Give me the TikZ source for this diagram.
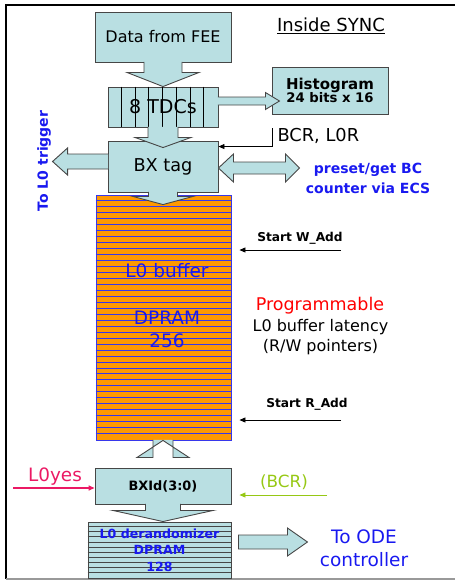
\documentclass[tikz,border=0pt]{standalone}
\usepackage{fontspec}
\setmainfont{DejaVu Sans}
\usetikzlibrary{positioning,arrows.meta,calc}
\definecolor{boxcol}{RGB}{185,223,226}
\definecolor{edgecol}{RGB}{70,70,70}
\definecolor{bufcol}{RGB}{255,153,0}
\definecolor{linecol}{RGB}{55,55,235}
\definecolor{txtblue}{RGB}{25,25,240}
\definecolor{progred}{RGB}{255,0,0}
\definecolor{yescol}{RGB}{235,25,100}
\definecolor{bcrcol}{RGB}{150,200,20}

\begin{document}
\begin{tikzpicture}[x=1pt, y=-1pt,
  %% cyan block  \node[box]{...}
  box/.style={
    draw=edgecol, fill=boxcol, line width=0.9pt,
    inner sep=0pt, align=center
  },
  %% wide hollow block arrows
  blk/.style={draw=edgecol, fill=boxcol, line width=0.9pt, line join=miter},
  %% thin pointer arrows
  ptr/.style={-{Triangle[length=6pt,width=5pt]}, line width=0.8pt, color=#1},
  ptr/.default=black,
  %% stripes inside the memories
  stripe/.style={line width=0.7pt, color=#1},
  stripe/.default=linecol,
]
\useasboundingbox (0,0) rectangle (455,581);

%%── Frame ────────────────────────────────────────────────────────────────────
\draw[line width=1.5pt] (455,5) -- (6,5) -- (6,579);
\draw[line width=1.5pt, black!40] (6,579) -- (455,579);

\node[font=\fontsize{18}{21}\selectfont] (title) at (331,26) {\underline{Inside SYNC}};

%%── Boxes ────────────────────────────────────────────────────────────────────
\node[box, minimum width=136pt, minimum height=50pt,
      font=\fontsize{16}{19}\selectfont] (fee) at (163,37) {Data from FEE};

\node[box, minimum width=110pt, minimum height=40pt] (tdc) at (163,107) {};
\foreach \i in {1,...,7}
  \draw[line width=0.8pt, black] ($(tdc.north west)+(\i*13.75,0)$) -- ($(tdc.south west)+(\i*13.75,0)$);
\node[font=\fontsize{19}{22}\selectfont] (tdctxt) at (tdc.center) {8 TDCs};

\node[box, minimum width=116pt, minimum height=47pt] (hist) at (330,90.5)
  {\fontsize{15}{18}\selectfont\bfseries Histogram\\[-0.5pt]
   \fontsize{13.2}{18}\selectfont\bfseries 24 bits x 16};

\node[box, minimum width=110pt, minimum height=51pt,
      font=\fontsize{17.7}{21}\selectfont] (bx) at (163,166.5) {BX tag};

\node[anchor=west, font=\fontsize{17.8}{21}\selectfont] (bcrl) at (274,136) {BCR, L0R};

\node[align=center, text=txtblue, font=\fontsize{14}{20}\selectfont\bfseries] (ecs) at (368,178)
  {preset/get BC\\counter via ECS};

\node[rotate=90, text=txtblue, font=\fontsize{14}{17}\selectfont\bfseries] (trig) at (44,161)
  {To L0 trigger};

%%── L0 buffer ────────────────────────────────────────────────────────────────
\node[draw=linecol, fill=bufcol, line width=0.9pt, inner sep=0pt,
      minimum width=135pt, minimum height=245pt] (buf) at (163.5,317.5) {};
\foreach \k in {1,...,40}
  \draw[stripe] ($(buf.north west)+(0,\k*5.976)$) -- ($(buf.north east)+(0,\k*5.976)$);
\node[text=txtblue, font=\fontsize{18.5}{22}\selectfont] (buftxt) at (167,271) {L0 buffer};
\node[text=txtblue, align=center, font=\fontsize{18.5}{23}\selectfont] (dpram) at (167,329.5) {DPRAM\\256};

\node[font=\fontsize{12.2}{15}\selectfont\bfseries] (wadd) at (300,238) {Start W\_Add};
\node[font=\fontsize{12.2}{15}\selectfont\bfseries] (radd) at (307,404) {Start R\_Add};
\coordinate (wptr) at (341,250);
\coordinate (rptr) at (341,420);

\node[text=progred, font=\fontsize{17.5}{21}\selectfont] (prog) at (320,306) {Programmable};
\node[font=\fontsize{16}{19}\selectfont] (lat) at (320.5,327) {L0 buffer latency};
\node[font=\fontsize{16}{19}\selectfont] (rw) at (320.5,347) {(R/W pointers)};

%%── BXId and derandomizer ────────────────────────────────────────────────────
\node[box, minimum width=136pt, minimum height=36pt,
      font=\fontsize{12.9}{15}\selectfont\bfseries] (bxid) at (163,486) {BXId(3:0)};

\node[text=yescol, font=\fontsize{18.4}{21}\selectfont] (yes) at (55,477) {L0yes};
\coordinate (yesin) at (13,488);
\node[text=bcrcol, font=\fontsize{16.8}{20}\selectfont] (bcr) at (284,482) {(BCR)};
\coordinate (bcrin) at (327,495);

\node[box, minimum width=143pt, minimum height=56pt] (der) at (159.5,550) {};
\foreach \k in {1,...,10}
  \draw[stripe=edgecol] ($(der.north west)+(0,\k*5.09)$) -- ($(der.north east)+(0,\k*5.09)$);
\node[text=txtblue, align=center, font=\fontsize{12.6}{16.5}\selectfont\bfseries] (dertxt)
  at (der.center) {L0 derandomizer\\DPRAM\\128};

\node[text=txtblue, align=center, font=\fontsize{18.5}{23}\selectfont] (ode) at (364,548)
  {To ODE\\controller};

%%── Block arrows ─────────────────────────────────────────────────────────────
\draw[blk] ($(fee.south)+(-19,-0.6)$) -- ++(0,10.6) -- ++(-17,0) -- (fee.south |- tdc.north)
  -- ($(fee.south)+(36,10)$) -- ++(-17,0) -- ++(0,-10.6);
\draw[blk] ($(tdc.south)+(-15,-0.6)$) -- ++(0,10.6) -- ++(-13,0) -- ($(tdc.south |- bx.north)+(0,7)$)
  -- ($(tdc.south)+(28,10)$) -- ++(-13,0) -- ++(0,-10.6);
\draw[blk] ($(bx.south)+(-14.5,-0.6)$) -- ++(0,4.6) -- ++(-15.5,0) -- ($(bx.south |- buf.north)+(0,10)$)
  -- ($(bx.south)+(30,4)$) -- ++(-15.5,0) -- ++(0,-4.6);
\draw[blk] ($(buf.south)+(-10.5,-0.6)$) -- ++(0,17.6) -- ++(-16,0) -- (buf.south -| bxid.north)
  -- ($(buf.south)+(25.5,17)$) -- ++(-16,0) -- ++(0,-17.6);
\draw[blk] ($(bxid.south)+(-17.5,-0.6)$) -- ++(0,6.6) -- ++(-32.5,0) -- (bxid.south |- der.north)
  -- ($(bxid.south)+(50,6)$) -- ++(-32.5,0) -- ++(0,-6.6);

\draw[blk] ($(tdc.east)+(-0.6,-10)$) -- ++(47.6,0) -- ++(0,-4.5) -- ++(14,8.5) -- ++(-14,8.5)
  -- ++(0,-4.5) -- ++(-47.6,0);
\draw[blk] ($(bx.west)+(0.6,-12.5)$) -- ++(-40.6,0) -- ++(0,-6) -- ++(-15,13.5) -- ++(15,13.5)
  -- ++(0,-6) -- ++(40.6,0);
\draw[blk] ($(bx.east)+(0,1.5)$) -- ++(15,-14) -- ++(0,8) -- ++(52,0) -- ++(0,-8) -- ++(14,14)
  -- ++(-14,14) -- ++(0,-8) -- ++(-52,0) -- ++(0,8) -- cycle;
\draw[blk] ($(der.east)+(7,-15)$) -- ++(49,0) -- ++(0,-7) -- ++(20,14) -- ++(-20,14) -- ++(0,-7)
  -- ++(-49,0) -- cycle;

%%── Thin pointers ────────────────────────────────────────────────────────────
\draw[ptr] ($(bcrl.west)+(-2,-8)$) |- ($(bx.north east)+(0,6)$);
\draw[ptr] (wptr) -- ($(wptr -| buf.east)+(8,0)$);
\draw[ptr] (rptr) -- ($(rptr -| buf.east)+(8,0)$);
\draw[ptr=yescol, line width=1.4pt] (yesin) -- (yesin -| bxid.west);
\draw[ptr=bcrcol] (bcrin) -- ($(bcrin -| bxid.east)+(8,0)$);

\end{tikzpicture}
\end{document}
